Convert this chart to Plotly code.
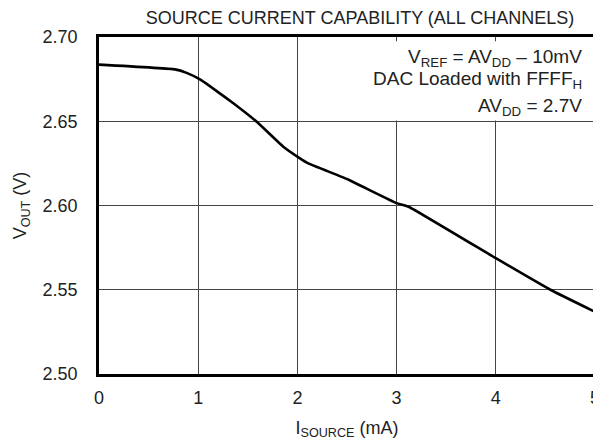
import plotly.graph_objects as go

# Data
i_source_ma = [0.0, 0.766, 0.884, 1.018, 1.2, 1.354, 1.59, 1.858, 2.026, 2.11,
               2.5, 3.0, 3.13, 4.0, 4.55, 5.0]
v_out = [2.6836, 2.6808, 2.6787, 2.6748, 2.6673, 2.6607, 2.6497, 2.6349, 2.6280, 2.6250,
         2.6157, 2.6014, 2.5990, 2.5687, 2.5500, 2.5369]

x_ticks = [0, 1, 2, 3, 4, 5]
y_ticks = [2.50, 2.55, 2.60, 2.65, 2.70]
y_tick_labels = ["2.50", "2.55", "2.60", "2.65", "2.70"]

title_text = "SOURCE CURRENT CAPABILITY (ALL CHANNELS)"
x_title = "I<sub>SOURCE</sub> (mA)"
y_title = "V<sub>OUT</sub> (V)"
notes = ["V<sub>REF</sub> = AV<sub>DD</sub> – 10mV",
         "DAC Loaded with FFFF<sub>H</sub>",
         "AV<sub>DD</sub> = 2.7V"]

FONT = "Liberation Sans, Arial, sans-serif"
TXT = "#222222"

# page body has an 8px default margin, so the figure is sized to fit the window
W, H = 593, 439
OFF = 8
PL, PR, PT, PB = 99 - OFF, 595 - OFF, 37 - OFF, 374 - OFF  # plot box in figure px

fig = go.Figure()
fig.add_trace(go.Scatter(x=i_source_ma, y=v_out, mode="lines",
                         line=dict(color="black", width=2.6, shape="spline", smoothing=0.3),
                         showlegend=False, hoverinfo="skip"))

fig.update_layout(
    width=W, height=H,
    margin=dict(l=PL, r=W - PR, t=PT, b=H - PB, autoexpand=False),
    paper_bgcolor="white", plot_bgcolor="white",
    font=dict(family=FONT, size=18, color=TXT),
    title=dict(text=title_text, x=(360 - OFF) / W, xref="container", xanchor="center",
               y=1 - (18 - OFF) / H, yref="container", yanchor="middle",
               font=dict(family=FONT, size=18, color=TXT), automargin=False),
)

fig.update_xaxes(range=[0, 5], tickvals=x_ticks, ticktext=[str(v) for v in x_ticks],
                 showgrid=True, gridcolor="#444444", gridwidth=1,
                 showline=True, linecolor="black", linewidth=2.6, mirror=True,
                 ticks="", zeroline=False, ticklabelstandoff=6, automargin=False,
                 tickfont=dict(size=18, color=TXT),
                 title=dict(text=x_title, font=dict(size=18, color=TXT), standoff=14))
fig.update_yaxes(range=[2.50, 2.70], tickvals=y_ticks, ticktext=y_tick_labels,
                 showgrid=True, gridcolor="#444444", gridwidth=1,
                 showline=True, linecolor="black", linewidth=2.6, mirror=True,
                 ticks="", zeroline=False, ticklabelstandoff=15, automargin=False,
                 tickfont=dict(size=18, color=TXT),
                 title=dict(text=y_title, font=dict(size=18, color=TXT), standoff=12))

# white box behind the condition notes (covers grid)
fig.add_shape(type="rect", xref="x", yref="y", x0=2.45, x1=4.985, y0=2.6505, y1=2.6975,
              fillcolor="white", line=dict(width=0), layer="between")

note_y = [58, 80, 107]
for txt, py in zip(notes, note_y):
    fig.add_annotation(text=txt, xref="paper", yref="paper",
                       x=(584 - 99) / 496, y=(374 - py) / 337,
                       xanchor="right", yanchor="middle", showarrow=False,
                       font=dict(family=FONT, size=19, color=TXT))

fig.write_html("out.html")
